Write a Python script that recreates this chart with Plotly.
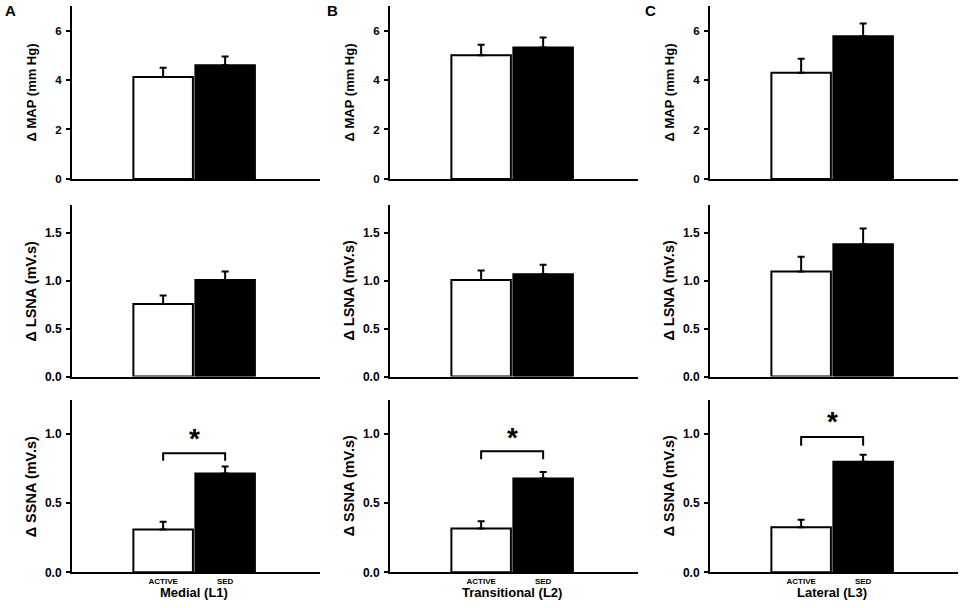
import plotly.graph_objects as go

# ---------------- data ----------------
groups = ["ACTIVE", "SED"]
regions = ["Medial (L1)", "Transitional (L2)", "Lateral (L3)"]
panel_letters = ["A", "B", "C"]
measures = ["Δ MAP (mm Hg)", "Δ LSNA (mV.s)", "Δ SSNA (mV.s)"]

# mean values [ACTIVE, SED] for each region
map_mean = [[4.12, 4.6], [5.0, 5.32], [4.3, 5.77]]
map_err = [[0.38, 0.35], [0.43, 0.4], [0.56, 0.52]]

lsna_mean = [[0.76, 1.01], [1.01, 1.07], [1.10, 1.385]]
lsna_err = [[0.09, 0.09], [0.10, 0.10], [0.155, 0.165]]

ssna_mean = [[0.31, 0.716], [0.318, 0.68], [0.326, 0.80]]
ssna_err = [[0.056, 0.05], [0.052, 0.047], [0.054, 0.052]]

# significance bracket (bottom row)
bracket_low = [0.807, 0.818, 0.916]
bracket_high = [0.862, 0.877, 0.98]
star_y = [0.97, 0.976, 1.09]

y_ranges = [[0, 7], [0, 1.8], [0, 1.245]]
y_ticks = [[0, 2, 4, 6], [0, 0.5, 1.0, 1.5], [0, 0.5, 1.0]]
y_formats = ["d", ".1f", ".1f"]

means = [map_mean, lsna_mean, ssna_mean]
errs = [map_err, lsna_err, ssna_err]

# ---------------- layout geometry (pixel frame) ----------------
W, H = 964, 608
col_px = [(72, 320), (390, 638), (710, 958)]
row_px = [(6, 181), (207, 381), (405, 579)]
title_sizes = [13, 14.5, 14.5]
tick_sizes = [11.5, 12, 12]

FONT = "Liberation Sans, Arial, sans-serif"

fig = go.Figure()
annotations = []

for r in range(3):
    for c in range(3):
        idx = r * 3 + c + 1
        xa = "x" if idx == 1 else f"x{idx}"
        ya = "y" if idx == 1 else f"y{idx}"
        xl = "xaxis" if idx == 1 else f"xaxis{idx}"
        yl = "yaxis" if idx == 1 else f"yaxis{idx}"

        fig.add_trace(go.Bar(
            x=groups, y=means[r][c], width=0.96,
            marker=dict(color=["white", "black"], line=dict(color="black", width=2)),
            error_y=dict(type="data", array=errs[r][c], arrayminus=[0, 0],
                         symmetric=False, color="black", thickness=2, width=3.5),
            xaxis=xa, yaxis=ya, showlegend=False, hoverinfo="skip",
        ))

        x0, x1 = col_px[c]
        y0, y1 = row_px[r]
        fig.layout[xl] = dict(
            domain=[x0 / W, x1 / W], anchor=ya, type="category",
            range=[-1.47, 2.53], showline=True, linecolor="black", linewidth=2,
            ticks="", showgrid=False, zeroline=False,
            showticklabels=(r == 2),
            tickfont=dict(family=FONT, size=8, color="black", weight="bold"),
        )
        fig.layout[yl] = dict(
            domain=[1 - y1 / H, 1 - y0 / H], anchor=xa,
            range=y_ranges[r], tickvals=y_ticks[r], tickformat=y_formats[r],
            showline=True, linecolor="black", linewidth=2,
            ticks="outside", ticklen=4, tickwidth=2, tickcolor="black",
            ticklabelstandoff=2,
            showgrid=False, zeroline=False,
            tickfont=dict(family=FONT, size=tick_sizes[r], color="black", weight="bold"),
        )

        # y axis title
        annotations.append(dict(
            text=measures[r], textangle=-90, xref="paper", yref="paper",
            x=(x0 - 41) / W, y=1 - (y0 + y1) / 2 / H, xanchor="center", yanchor="middle",
            showarrow=False, font=dict(family=FONT, size=title_sizes[r], color="black", weight="bold"),
        ))

        if r == 2:
            # significance bracket
            fig.add_trace(go.Scatter(
                x=[groups[0], groups[0], groups[1], groups[1]],
                y=[bracket_low[c], bracket_high[c], bracket_high[c], bracket_low[c]],
                mode="lines", line=dict(color="black", width=2),
                xaxis=xa, yaxis=ya, showlegend=False, hoverinfo="skip",
            ))
            annotations.append(dict(
                text="*", xref=xa, yref=ya, x=0.5, y=star_y[c],
                xanchor="center", yanchor="middle", showarrow=False,
                font=dict(family=FONT, size=28, color="black", weight="bold"),
            ))
            # x axis title
            annotations.append(dict(
                text=regions[c], xref="paper", yref="paper",
                x=(x0 + 91 + 31) / W, y=1 - 599 / H, xanchor="center", yanchor="middle",
                showarrow=False, font=dict(family=FONT, size=13, color="black", weight="bold"),
            ))

# panel letters
letter_x = [3, 325, 643]
for c in range(3):
    annotations.append(dict(
        text=panel_letters[c], xref="paper", yref="paper",
        x=letter_x[c] / W, y=1 - 11 / H, xanchor="left", yanchor="middle",
        showarrow=False, font=dict(family=FONT, size=15, color="black", weight="bold"),
    ))

fig.update_layout(
    width=W, height=H, margin=dict(l=0, r=0, t=0, b=0),
    paper_bgcolor="white", plot_bgcolor="white",
    font=dict(family=FONT, color="black", weight="bold"),
    annotations=annotations, bargap=0, hovermode=False,
)

page_css = (
    "document.documentElement.style.margin='0';"
    "document.documentElement.style.padding='0';"
    "document.documentElement.style.overflow='hidden';"
    "document.body.style.margin='0';"
    "document.body.style.padding='0';"
    "document.body.style.overflow='hidden';"
)

fig.write_html("out.html", config={"displayModeBar": False, "staticPlot": True},
               post_script=page_css)
